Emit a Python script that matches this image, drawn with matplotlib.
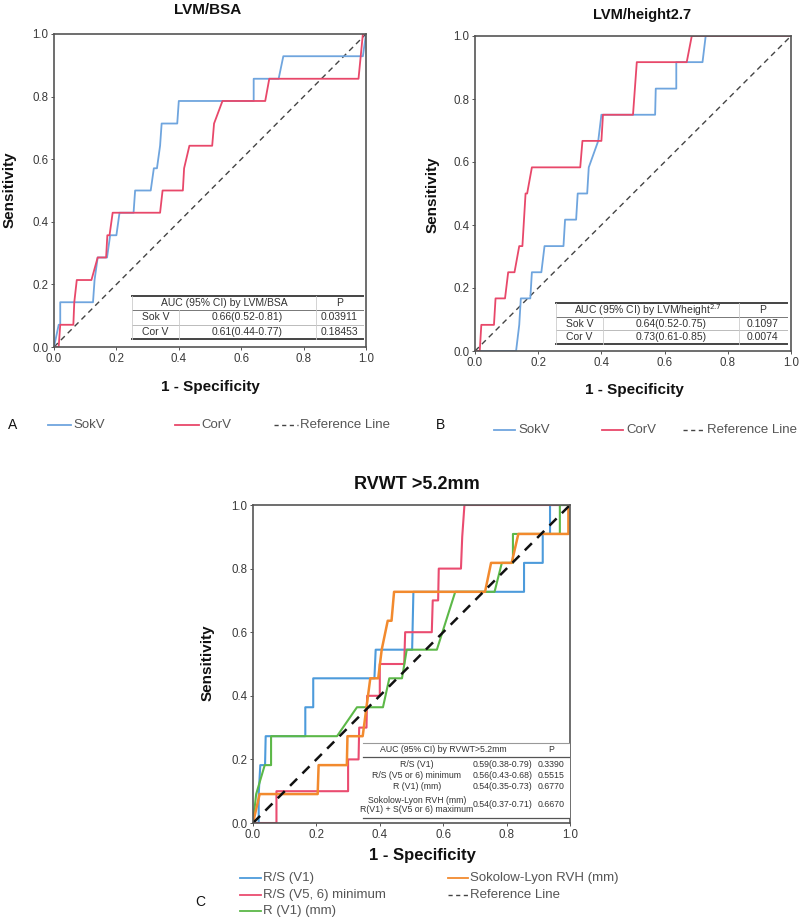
import matplotlib
matplotlib.use("Agg")
import matplotlib.pyplot as plt
from matplotlib.lines import Line2D

plt.rcParams['font.family'] = ['Liberation Sans', 'DejaVu Sans']

W, H = 800, 922

# ---------------- Data ----------------
# Panel A: LVM/BSA
a_sok_fpr = [0, 0.015, 0.02, 0.02, 0.125, 0.13, 0.14, 0.17, 0.18, 0.2, 0.21, 0.255, 0.26, 0.31, 0.32, 0.33, 0.34, 0.345, 0.395, 0.40, 0.64, 0.64, 0.72, 0.735, 0.99, 1.0]
a_sok_tpr = [0, 0.071, 0.071, 0.143, 0.143, 0.214, 0.286, 0.286, 0.357, 0.357, 0.429, 0.429, 0.5, 0.5, 0.571, 0.571, 0.643, 0.714, 0.714, 0.786, 0.786, 0.857, 0.857, 0.929, 0.929, 1.0]
a_cor_fpr = [0, 0.015, 0.02, 0.062, 0.065, 0.073, 0.12, 0.14, 0.167, 0.171, 0.178, 0.188, 0.34, 0.348, 0.413, 0.417, 0.434, 0.507, 0.513, 0.54, 0.677, 0.69, 0.976, 0.99, 1.0]
a_cor_tpr = [0, 0.0, 0.071, 0.071, 0.143, 0.214, 0.214, 0.286, 0.286, 0.357, 0.357, 0.429, 0.429, 0.5, 0.5, 0.571, 0.643, 0.643, 0.714, 0.786, 0.786, 0.857, 0.857, 1.0, 1.0]
a_rows = ["Sok V", "Cor V"]
a_auc = ["0.66(0.52-0.81)", "0.61(0.44-0.77)"]
a_p = ["0.03911", "0.18453"]

# Panel B: LVM/height2.7
b_sok_fpr = [0, 0.13, 0.14, 0.145, 0.175, 0.18, 0.21, 0.22, 0.28, 0.285, 0.32, 0.325, 0.355, 0.36, 0.39, 0.40, 0.57, 0.572, 0.637, 0.637, 0.72, 0.73, 1.0]
b_sok_tpr = [0, 0, 0.083, 0.167, 0.167, 0.25, 0.25, 0.333, 0.333, 0.417, 0.417, 0.5, 0.5, 0.583, 0.667, 0.75, 0.75, 0.833, 0.833, 0.917, 0.917, 1.0, 1.0]
b_cor_fpr = [0, 0.015, 0.02, 0.06, 0.065, 0.095, 0.105, 0.125, 0.14, 0.15, 0.16, 0.165, 0.18, 0.333, 0.34, 0.40, 0.405, 0.50, 0.512, 0.67, 0.686, 1.0]
b_cor_tpr = [0, 0, 0.083, 0.083, 0.167, 0.167, 0.25, 0.25, 0.333, 0.333, 0.5, 0.5, 0.583, 0.583, 0.667, 0.667, 0.75, 0.75, 0.917, 0.917, 1.0, 1.0]
b_rows = ["Sok V", "Cor V"]
b_auc = ["0.64(0.52-0.75)", "0.73(0.61-0.85)"]
b_p = ["0.1097", "0.0074"]

# Panel C: RVWT >5.2mm
c_rs_fpr = [0, 0.018, 0.018, 0.023, 0.038, 0.04, 0.165, 0.165, 0.19, 0.19, 0.383, 0.387, 0.502, 0.506, 0.855, 0.855, 0.914, 0.914, 0.937, 0.937, 1.0]
c_rs_tpr = [0, 0, 0.091, 0.182, 0.182, 0.273, 0.273, 0.364, 0.364, 0.455, 0.455, 0.545, 0.545, 0.727, 0.727, 0.818, 0.818, 0.909, 0.909, 1.0, 1.0]
c_rsmin_fpr = [0, 0.074, 0.074, 0.30, 0.30, 0.333, 0.335, 0.358, 0.36, 0.40, 0.40, 0.477, 0.48, 0.564, 0.567, 0.584, 0.586, 0.656, 0.66, 0.667, 1.0]
c_rsmin_tpr = [0, 0, 0.1, 0.1, 0.2, 0.2, 0.3, 0.3, 0.4, 0.4, 0.5, 0.5, 0.6, 0.6, 0.7, 0.7, 0.8, 0.8, 0.9, 1.0, 1.0]
c_r_fpr = [0, 0.01, 0.037, 0.057, 0.057, 0.265, 0.328, 0.41, 0.43, 0.47, 0.485, 0.58, 0.638, 0.762, 0.785, 0.82, 0.82, 0.968, 0.968, 1.0]
c_r_tpr = [0, 0.091, 0.182, 0.182, 0.273, 0.273, 0.364, 0.364, 0.455, 0.455, 0.545, 0.545, 0.727, 0.727, 0.818, 0.818, 0.909, 0.909, 1.0, 1.0]
c_sl_fpr = [0, 0.021, 0.204, 0.207, 0.296, 0.298, 0.346, 0.37, 0.395, 0.406, 0.425, 0.437, 0.445, 0.732, 0.751, 0.816, 0.837, 0.995, 0.995, 1.0]
c_sl_tpr = [0, 0.091, 0.091, 0.182, 0.182, 0.273, 0.273, 0.455, 0.455, 0.545, 0.636, 0.636, 0.727, 0.727, 0.818, 0.818, 0.909, 0.909, 1.0, 1.0]
c_rows = ["R/S (V1)", "R/S (V5 or 6) minimum", "R (V1) (mm)", "Sokolow-Lyon RVH (mm)\nR(V1) + S(V5 or 6) maximum"]
c_auc = ["0.59(0.38-0.79)", "0.56(0.43-0.68)", "0.54(0.35-0.73)", "0.54(0.37-0.71)"]
c_p = ["0.3390", "0.5515", "0.6770", "0.6670"]

ticks = [0.0, 0.2, 0.4, 0.6, 0.8, 1.0]
tick_labels = ["0.0", "0.2", "0.4", "0.6", "0.8", "1.0"]

BLUE = "#6FA5DE"
RED = "#E8486A"
C_BLUE = "#4D9BDB"
C_RED = "#EA4C70"
C_GREEN = "#5CB848"
C_ORANGE = "#F28A2E"
TXT = "#333333"

fig = plt.figure(figsize=(W / 100, H / 100), dpi=100)


def px_axes(l, t, r, b):
    return fig.add_axes([l / W, 1 - b / H, (r - l) / W, (b - t) / H])


def style_axes(ax, tick_fs=8.3):
    ax.set_xlim(0, 1)
    ax.set_ylim(0, 1)
    ax.set_xticks(ticks)
    ax.set_yticks(ticks)
    ax.set_xticklabels(tick_labels)
    ax.set_yticklabels(tick_labels)
    ax.tick_params(length=2, width=0.6, labelsize=tick_fs, colors="#3a3a3a", pad=2)
    for s in ax.spines.values():
        s.set_color("#555555")
        s.set_linewidth(1.2)


def fig_text(x, y, s, **kw):
    fig.text(x / W, 1 - y / H, s, **kw)


def fig_line(x0, x1, y, **kw):
    fig.add_artist(Line2D([x0 / W, x1 / W], [1 - y / H, 1 - y / H], transform=fig.transFigure, **kw))


# ---------------- Panel A ----------------
axA = px_axes(54, 34, 366, 347)
style_axes(axA)
axA.plot([0, 1], [0, 1], color="#444444", lw=1.0, ls=(0, (4, 3)))
axA.plot(a_sok_fpr, a_sok_tpr, color=BLUE, lw=1.3)
axA.plot(a_cor_fpr, a_cor_tpr, color=RED, lw=1.3)
fig_text(208, 10, "LVM/BSA", fontsize=11, fontweight="bold", ha="center", va="center", color="#111111")
fig_text(10, 190, "Sensitivity", rotation=90, fontsize=11, fontweight="bold", ha="center", va="center", color="#111111")
fig_text(210, 387, "1 - Specificity", fontsize=11, fontweight="bold", ha="center", va="center", color="#111111")


def table2(ax, x0, x1, ytop, ybot, c1, c2, header, rows, aucs, ps, fs=7.5):
    tr = ax.transAxes
    n = len(rows) + 1
    rh = (ytop - ybot) / n
    ax.add_patch(plt.Rectangle((x0, ybot), x1 - x0, ytop - ybot, transform=tr, facecolor="white", edgecolor="none", zorder=4))
    ax.plot([x0, x1], [ytop, ytop], transform=tr, color="#444444", lw=1.4, zorder=5)
    ax.plot([x0, x1], [ybot, ybot], transform=tr, color="#444444", lw=1.4, zorder=5)
    for i in range(1, n):
        y = ytop - i * rh
        ax.plot([x0, x1], [y, y], transform=tr, color="#777777" if i == 1 else "#bbbbbb", lw=0.7, zorder=5)
    ax.plot([x0, x0], [ybot, ytop], transform=tr, color="#cccccc", lw=0.6, zorder=5)
    ax.plot([c2, c2], [ybot, ytop], transform=tr, color="#cccccc", lw=0.6, zorder=5)
    ax.plot([c1, c1], [ybot, ytop - rh], transform=tr, color="#cccccc", lw=0.6, zorder=5)
    ax.text((x0 + c2) / 2, ytop - rh / 2, header, transform=tr, ha="center", va="center", fontsize=fs, color=TXT, zorder=6)
    ax.text((c2 + x1) / 2, ytop - rh / 2, "P", transform=tr, ha="center", va="center", fontsize=fs, color=TXT, zorder=6)
    for i, (r, a, p) in enumerate(zip(rows, aucs, ps)):
        y = ytop - (i + 1.5) * rh
        ax.text((x0 + c1) / 2, y, r, transform=tr, ha="center", va="center", fontsize=fs, color=TXT, zorder=6)
        ax.text((c1 + c2) / 2, y, a, transform=tr, ha="center", va="center", fontsize=fs, color=TXT, zorder=6)
        ax.text((c2 + x1) / 2, y, p, transform=tr, ha="center", va="center", fontsize=fs, color=TXT, zorder=6)


table2(axA, 0.25, 0.99, 0.163, 0.026, 0.40, 0.839, "AUC (95% CI) by LVM/BSA", a_rows, a_auc, a_p)

# Legend A
fig_text(13, 425, "A", fontsize=10, ha="center", va="center", color="#111111")
fig_line(48, 71, 425, color=BLUE, lw=1.3)
fig_text(73, 425, "SokV", fontsize=9.5, va="center", color="#555555")
fig_line(175, 199, 425, color=RED, lw=1.3)
fig_text(201, 425, "CorV", fontsize=9.5, va="center", color="#555555")
fig_line(274, 298, 425, color="#444444", lw=1.0, ls=(0, (3, 2.5)))
fig_text(300, 425, "Reference Line", fontsize=9.5, va="center", color="#555555")

# ---------------- Panel B ----------------
axB = px_axes(475, 36, 791, 351)
style_axes(axB)
axB.plot([0, 1], [0, 1], color="#444444", lw=1.0, ls=(0, (4, 3)))
axB.plot(b_sok_fpr, b_sok_tpr, color=BLUE, lw=1.3)
axB.plot(b_cor_fpr, b_cor_tpr, color=RED, lw=1.3)
fig_text(642, 15, "LVM/height2.7", fontsize=10.5, fontweight="bold", ha="center", va="center", color="#111111")
fig_text(433, 195, "Sensitivity", rotation=90, fontsize=11, fontweight="bold", ha="center", va="center", color="#111111")
fig_text(634, 390, "1 - Specificity", fontsize=11, fontweight="bold", ha="center", va="center", color="#111111")
table2(axB, 0.256, 0.987, 0.152, 0.022, 0.405, 0.835, "AUC (95% CI) by LVM/height$^{2.7}$", b_rows, b_auc, b_p, fs=7.5)

fig_text(440, 425, "B", fontsize=10, ha="center", va="center", color="#111111")
fig_line(494, 515, 430, color=BLUE, lw=1.3)
fig_text(518, 430, "SokV", fontsize=9.5, va="center", color="#555555")
fig_line(602, 623, 430, color=RED, lw=1.3)
fig_text(626, 430, "CorV", fontsize=9.5, va="center", color="#555555")
fig_line(683, 705, 430, color="#444444", lw=1.0, ls=(0, (3, 2.5)))
fig_text(707, 430, "Reference Line", fontsize=9.5, va="center", color="#555555")

# ---------------- Panel C ----------------
axC = px_axes(253, 505, 570, 823)
style_axes(axC)
axC.plot(c_rs_fpr, c_rs_tpr, color=C_BLUE, lw=1.5)
axC.plot(c_rsmin_fpr, c_rsmin_tpr, color=C_RED, lw=1.5)
axC.plot(c_r_fpr, c_r_tpr, color=C_GREEN, lw=1.5)
axC.plot(c_sl_fpr, c_sl_tpr, color=C_ORANGE, lw=1.8)
axC.plot([0, 1], [0, 1], color="#111111", lw=1.8, ls=(0, (4, 3)))
fig_text(417, 484, "RVWT >5.2mm", fontsize=13, fontweight="bold", ha="center", va="center", color="#111111")
fig_text(208, 663, "Sensitivity", rotation=90, fontsize=11, fontweight="bold", ha="center", va="center", color="#111111")
fig_text(422, 855, "1 - Specificity", fontsize=12, fontweight="bold", ha="center", va="center", color="#111111")

# Table C
tr = axC.transAxes
tx0, tx1, ytop, ybot = 0.347, 1.0, 0.252, 0.016
axC.add_patch(plt.Rectangle((tx0, ybot), tx1 - tx0, ytop - ybot, transform=tr, facecolor="white", edgecolor="none", zorder=6))
axC.plot([tx0, tx1], [ytop, ytop], transform=tr, color="#999999", lw=0.8, zorder=7)
axC.plot([tx0, tx1], [0.208, 0.208], transform=tr, color="#555555", lw=0.9, zorder=7)
axC.plot([tx0, tx1], [ybot, ybot], transform=tr, color="#555555", lw=0.9, zorder=7)
c_label_x, c_auc_x, c_p_x = 0.517, 0.787, 0.941
c_row_y = [0.185, 0.150, 0.116, 0.057]
fsC = 6.3
axC.text(0.60, 0.230, "AUC (95% CI) by RVWT>5.2mm", transform=tr, ha="center", va="center", fontsize=fsC, color=TXT, zorder=8)
axC.text(c_p_x, 0.230, "P", transform=tr, ha="center", va="center", fontsize=fsC, color=TXT, zorder=8)
for y, r, a, p in zip(c_row_y, c_rows, c_auc, c_p):
    axC.text(c_label_x, y, r, transform=tr, ha="center", va="center", fontsize=fsC, color=TXT, zorder=8, linespacing=1.1)
    axC.text(c_auc_x, y, a, transform=tr, ha="center", va="center", fontsize=fsC, color=TXT, zorder=8)
    axC.text(c_p_x, y, p, transform=tr, ha="center", va="center", fontsize=fsC, color=TXT, zorder=8)

# Legend C
fig_text(200, 902, "C", fontsize=10, ha="center", va="center", color="#111111")
leg_left = [("R/S (V1)", C_BLUE), ("R/S (V5, 6) minimum", C_RED), ("R (V1) (mm)", C_GREEN)]
for (lab, col), y in zip(leg_left, [878, 895, 911]):
    fig_line(240, 261, y, color=col, lw=1.3)
    fig_text(263, y, lab, fontsize=9.5, va="center", color="#555555")
fig_line(448, 468, 878, color=C_ORANGE, lw=1.3)
fig_text(470, 878, "Sokolow-Lyon RVH (mm)", fontsize=9.5, va="center", color="#555555")
fig_line(448, 468, 895, color="#444444", lw=1.0, ls=(0, (3, 2.5)))
fig_text(470, 895, "Reference Line", fontsize=9.5, va="center", color="#555555")

fig.savefig("out.png", dpi=100, facecolor="white")
